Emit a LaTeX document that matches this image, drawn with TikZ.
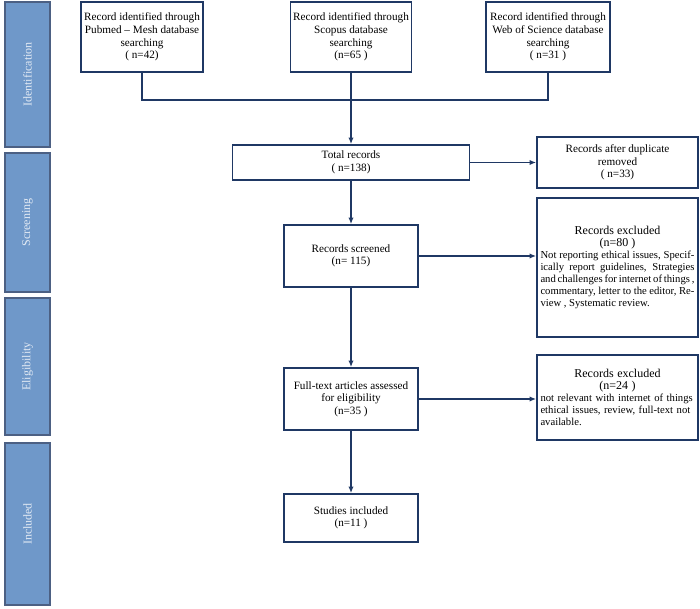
\documentclass[tikz,border=0pt]{standalone}
\usepackage{fontspec}
\setmainfont{Liberation Serif}
\usetikzlibrary{arrows.meta}
\definecolor{barblue}{HTML}{6F98C9}
\definecolor{lineblue}{HTML}{1F3864}
\tikzset{
  box/.style={draw=lineblue, line width=1.2pt, fill=white, align=center, font=\fontsize{8.4}{9.4}\selectfont, inner sep=2pt},
  phase/.style={draw=lineblue!80, line width=1pt, fill=barblue},
  flow/.style={draw=lineblue, line width=1pt, -{Latex[length=5pt,width=4pt]}}
}
\begin{document}
\begin{tikzpicture}[x=0.75pt,y=-0.75pt]
    \useasboundingbox (0,0) rectangle (700,609);
    % phase bars
    \foreach \name/\top/\bot in {Identification/2/147, Screening/153/292, Eligibility/298/435, Included/443/605}{
      \draw[phase] (5,\top) rectangle (50,\bot);
      \node[rotate=90, text=white!80!barblue, font=\fontsize{9}{10}\selectfont] at (27.5,{(\top+\bot)/2}) {\name};
    }
    % boxes
    \node[box, minimum width=122*0.75pt, minimum height=70*0.75pt] (pubmed) at (142,37) {Record identified through\\Pubmed -- Mesh database\\searching\\( n=42)};
    \node[box, minimum width=120*0.75pt, minimum height=70*0.75pt] (scopus) at (351,37) {Record identified through\\Scopus database\\searching\\(n=65 )};
    \node[box, minimum width=124*0.75pt, minimum height=70*0.75pt] (wos) at (548,37) {Record identified through\\Web of Science database\\searching\\( n=31 )};
    \node[box, minimum width=237*0.75pt, minimum height=35*0.75pt] (total) at (351,162.5) {Total records\\( n=138)};
    \node[box, minimum width=161*0.75pt, minimum height=51*0.75pt] (dup) at (617.5,162.5) {Records after duplicate\\removed\\( n=33)};
    \node[box, minimum width=134*0.75pt, minimum height=62*0.75pt] (screened) at (351,256) {Records screened\\(n= 115)};
    \node[box, minimum width=161*0.75pt, minimum height=139*0.75pt, text width=154*0.75pt, align=justify, font=\fontsize{8}{9}\selectfont] (excl1) at (617.5,267.5) {\hyphenpenalty=10000 \centering {\fontsize{9}{10}\selectfont Records excluded\\(n=80 )}\par Not reporting ethical issues, Specifically report guidelines, Strategies and challenges for internet of things , commentary, letter to the editor, Review , Systematic review.};
    \node[box, minimum width=134*0.75pt, minimum height=62*0.75pt] (fulltext) at (351,399) {Full-text articles assessed\\for eligibility\\(n=35 )};
    \node[box, minimum width=161*0.75pt, minimum height=85*0.75pt, text width=154*0.75pt, align=left, font=\fontsize{8}{9}\selectfont] (excl2) at (617.5,397.5) {\hyphenpenalty=10000 \centering {\fontsize{9}{10}\selectfont Records excluded\\(n=24 )}\par\raggedright not relevant with internet of things ethical issues, review, full-text not available.};
    \node[box, minimum width=134*0.75pt, minimum height=48*0.75pt] (included) at (351,518) {Studies included\\(n=11 )};
    % connectors
    \coordinate (join) at (351,100);
    \draw[draw=lineblue, line width=1pt] (pubmed.south) |- (join) -| (wos.south);
    \draw[draw=lineblue, line width=1pt] (scopus.south) -- (join);
    \draw[flow] (join) -- (total.north);
    \draw[flow] (total) -- (dup);
    \draw[flow] (total.south) -- (screened.north);
    \draw[flow] (screened) -- (screened -| excl1.west);
    \draw[flow] (screened) -- (fulltext);
    \draw[flow] (fulltext) -- (fulltext -| excl2.west);
    \draw[flow] (fulltext) -- (included);
\end{tikzpicture}
\end{document}
